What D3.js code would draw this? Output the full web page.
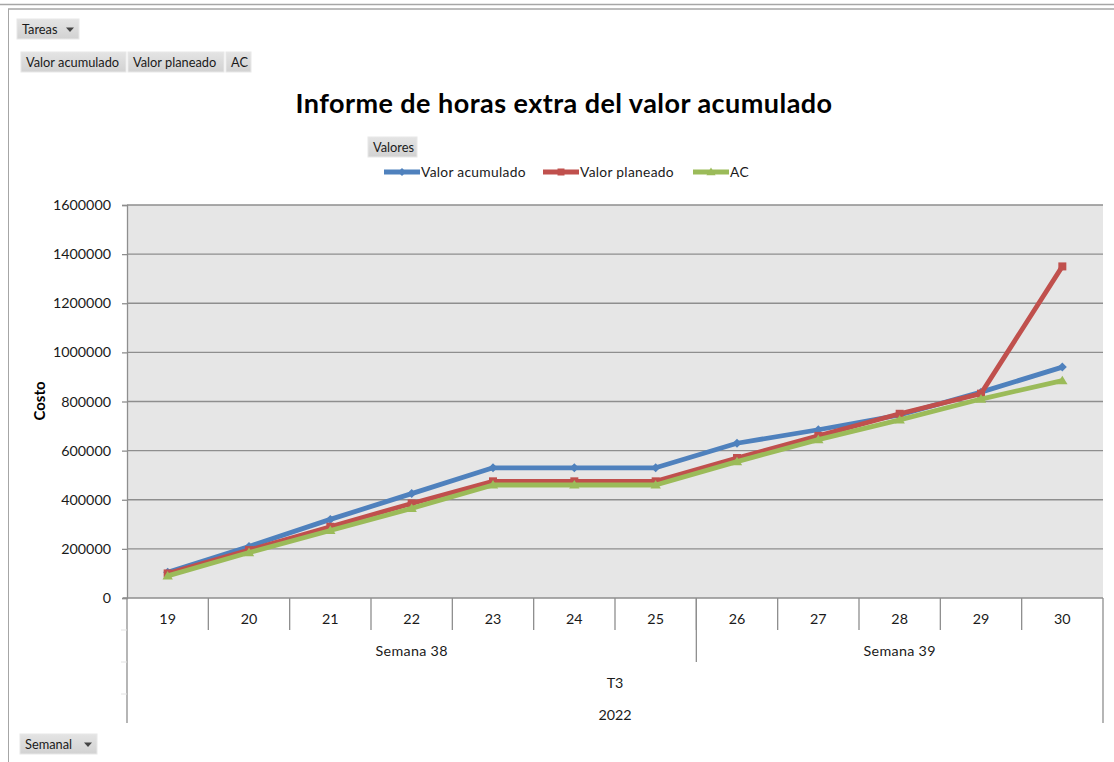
<!DOCTYPE html>
<html>
<head>
<meta charset="utf-8">
<script src="https://cdn.jsdelivr.net/npm/d3@7"></script>
<style>
  html, body { margin: 0; padding: 0; background: #fff; }
  svg { display: block; font-family: Lato, "Open Sans", sans-serif; }
</style>
</head>
<body>
<svg id="chart" width="1114" height="762"></svg>
<script>
// ---- data ----
const categories = ["19","20","21","22","23","24","25","26","27","28","29","30"];
const weekLabels = ["Semana 38","Semana 39"];
const weekDays = [["19","20","21","22","23","24","25"],["26","27","28","29","30"]];
const quarterLabel = "T3";
const yearLabel = "2022";
const seriesNames = ["Valor acumulado","Valor planeado","AC"];
const valorAcumulado = [105000,210000,320000,425000,530000,530000,530000,630000,685000,745000,838000,940000];
const valorPlaneado  = [100000,195000,290000,385000,475000,475000,475000,570000,660000,750000,832000,1350000];
const acValues       = [ 90000,185000,275000,365000,460000,460000,460000,555000,645000,725000,810000, 885000];
const yTicks = [0,200000,400000,600000,800000,1000000,1200000,1400000,1600000];
const colors = ["#4F81BD","#C0504D","#9BBB59"];
const markers = ["diamond","square","triangle"];

(function () {
const svg = d3.select("#chart");
const W = 1114, H = 762;
const AX_FS = 14.3;

svg.append("line").attr("x1",0).attr("x2",W).attr("y1",4.5).attr("y2",4.5).attr("stroke","#a6a6a6").attr("stroke-width",1.5);
svg.append("line").attr("x1",8).attr("x2",W).attr("y1",9).attr("y2",9).attr("stroke","#a6a6a6").attr("stroke-width",1.5);
svg.append("line").attr("x1",8.5).attr("x2",8.5).attr("y1",9).attr("y2",H).attr("stroke","#a6a6a6").attr("stroke-width",1);

const defs = svg.append("defs");
const grad = defs.append("linearGradient").attr("id","btn").attr("x1",0).attr("x2",0).attr("y1",0).attr("y2",1);
grad.append("stop").attr("offset","0%").attr("stop-color","#e4e4e4");
grad.append("stop").attr("offset","100%").attr("stop-color","#d2d2d2");

function button(bx, by, w, h, label, arrow) {
  const g = svg.append("g").attr("transform", `translate(${bx},${by})`);
  g.append("rect").attr("width", w).attr("height", h).attr("fill", "url(#btn)").attr("stroke","#e8e8e8");
  g.append("text").attr("x", 5).attr("y", h/2 + 4.5).attr("font-size", 12.8).attr("fill","#1a1a1a").text(label);
  if (arrow) {
    const ax = w - 13, ay = h/2 - 1.5;
    g.append("path").attr("d", `M${ax},${ay} L${ax+8},${ay} L${ax+4},${ay+4.5} Z`).attr("fill","#444");
  }
}
button(17, 19, 62, 20, "Tareas", true);
button(21, 52, 105, 20, "Valor acumulado", false);
button(128, 52, 96, 20, "Valor planeado", false);
button(226, 52, 25, 20, "AC", false);
button(368, 137, 49, 20, "Valores", false);
button(20, 734, 77, 20, "Semanal", true);

svg.append("text").attr("x", 564).attr("y", 113).attr("text-anchor","middle")
  .attr("font-size", 27).attr("font-weight","bold").attr("fill","#000").attr("letter-spacing", 0.45)
  .text("Informe de horas extra del valor acumulado");

const pLeft = 127, pRight = 1103, pTop = 205, pBottom = 598;
const x = d3.scaleBand().domain(categories).range([pLeft, pRight]).padding(0);
const y = d3.scaleLinear().domain([0, 1600000]).range([pBottom, pTop]);

svg.append("rect").attr("x", pLeft).attr("y", pTop).attr("width", pRight-pLeft).attr("height", pBottom-pTop).attr("fill","#e6e6e6");

svg.append("g").selectAll("line").data(yTicks.filter(d => d > 0)).join("line")
  .attr("x1", pLeft).attr("x2", pRight).attr("y1", d => y(d)).attr("y2", d => y(d))
  .attr("stroke","#8e8e8e").attr("stroke-width",1.3);

const yAxis = d3.axisLeft(y).tickValues(yTicks).tickFormat(d3.format("d")).tickSize(5).tickPadding(11);
const yg = svg.append("g").attr("transform", `translate(${pLeft},0)`).call(yAxis);
yg.select(".domain").attr("stroke","#8e8e8e").attr("stroke-width",1.3);
yg.selectAll(".tick line").attr("stroke","#8e8e8e").attr("stroke-width",1.3);
yg.selectAll(".tick text").attr("font-size", AX_FS).attr("fill","#1a1a1a").attr("font-family","Lato, sans-serif");

svg.append("text").attr("transform","translate(45,401) rotate(-90)").attr("text-anchor","middle")
  .attr("font-size", 15).attr("font-weight","bold").attr("fill","#000").text("Costo");

svg.append("line").attr("x1", pLeft-4).attr("x2", pRight).attr("y1", pBottom).attr("y2", pBottom).attr("stroke","#8e8e8e").attr("stroke-width",1.3);

const xg = svg.append("g");
xg.selectAll("line.div").data(categories.slice(1)).join("line").attr("class","div")
  .attr("x1", d => x(d)).attr("x2", d => x(d)).attr("y1", pBottom).attr("y2", 630)
  .attr("stroke","#8e8e8e").attr("stroke-width",1.3);
xg.selectAll("text.day").data(categories).join("text").attr("class","day")
  .attr("x", d => x(d) + x.bandwidth()/2).attr("y", 624).attr("text-anchor","middle")
  .attr("font-size", AX_FS).attr("fill","#1a1a1a").text(d => d);

weekLabels.forEach((lab, i) => {
  const days = weekDays[i];
  const x0 = x(days[0]), x1 = x(days[days.length-1]) + x.bandwidth();
  svg.append("text").attr("x", (x0+x1)/2).attr("y", 656).attr("text-anchor","middle")
    .attr("font-size", AX_FS).attr("letter-spacing", 0.3).attr("fill","#1a1a1a").text(lab);
  if (i > 0) {
    svg.append("line").attr("x1", x0).attr("x2", x0).attr("y1", pBottom).attr("y2", 662)
      .attr("stroke","#8e8e8e").attr("stroke-width",1.3);
  }
});
svg.append("text").attr("x", (pLeft+pRight)/2).attr("y", 688).attr("text-anchor","middle")
  .attr("font-size", AX_FS).attr("fill","#1a1a1a").text(quarterLabel);
svg.append("text").attr("x", (pLeft+pRight)/2).attr("y", 720).attr("text-anchor","middle")
  .attr("font-size", AX_FS).attr("fill","#1a1a1a").text(yearLabel);
[pLeft, pRight].forEach(xx => {
  svg.append("line").attr("x1", xx).attr("x2", xx).attr("y1", pBottom).attr("y2", 723)
    .attr("stroke","#8e8e8e").attr("stroke-width",1.3);
});
[630, 662, 694].forEach(yy => {
  svg.append("line").attr("x1", pLeft-6).attr("x2", pLeft).attr("y1", yy).attr("y2", yy)
    .attr("stroke","#e2e2e2").attr("stroke-width",1);
});

const seriesData = [valorAcumulado, valorPlaneado, acValues];
const line = d3.line().x((d, i) => x(categories[i]) + x.bandwidth()/2).y(d => y(d));

function markerPath(type, s) {
  if (type === "diamond") return `M0,${-s} L${s},0 L0,${s} L${-s},0 Z`;
  if (type === "square") return `M${-s},${-s} H${s} V${s} H${-s} Z`;
  return `M0,${-s*1.1} L${s*1.15},${s*0.8} L${-s*1.15},${s*0.8} Z`;
}

seriesData.forEach((vals, si) => {
  const g = svg.append("g");
  g.append("path").datum(vals).attr("d", line).attr("fill","none")
    .attr("stroke", colors[si]).attr("stroke-width", 4.8).attr("stroke-linejoin","round");
  g.selectAll("path.m").data(vals).join("path").attr("class","m")
    .attr("transform", (d, i) => `translate(${x(categories[i]) + x.bandwidth()/2},${y(d)})`)
    .attr("d", markerPath(markers[si], si === 1 ? 4 : 4.5))
    .attr("fill", colors[si]);
});

const legendX = [384, 543, 693];
seriesNames.forEach((name, i) => {
  const g = svg.append("g").attr("transform", `translate(${legendX[i]},172)`);
  g.append("line").attr("x1",0).attr("x2",36).attr("y1",0).attr("y2",0).attr("stroke",colors[i]).attr("stroke-width",4.8);
  g.append("path").attr("transform","translate(18,0)").attr("d", markerPath(markers[i], i === 1 ? 3.5 : 4)).attr("fill",colors[i]);
  g.append("text").attr("x", 37).attr("y", 4.8).attr("font-size", 13.8).attr("letter-spacing", 0.3).attr("fill","#1a1a1a").text(name);
});
})();
</script>
</body>
</html>
